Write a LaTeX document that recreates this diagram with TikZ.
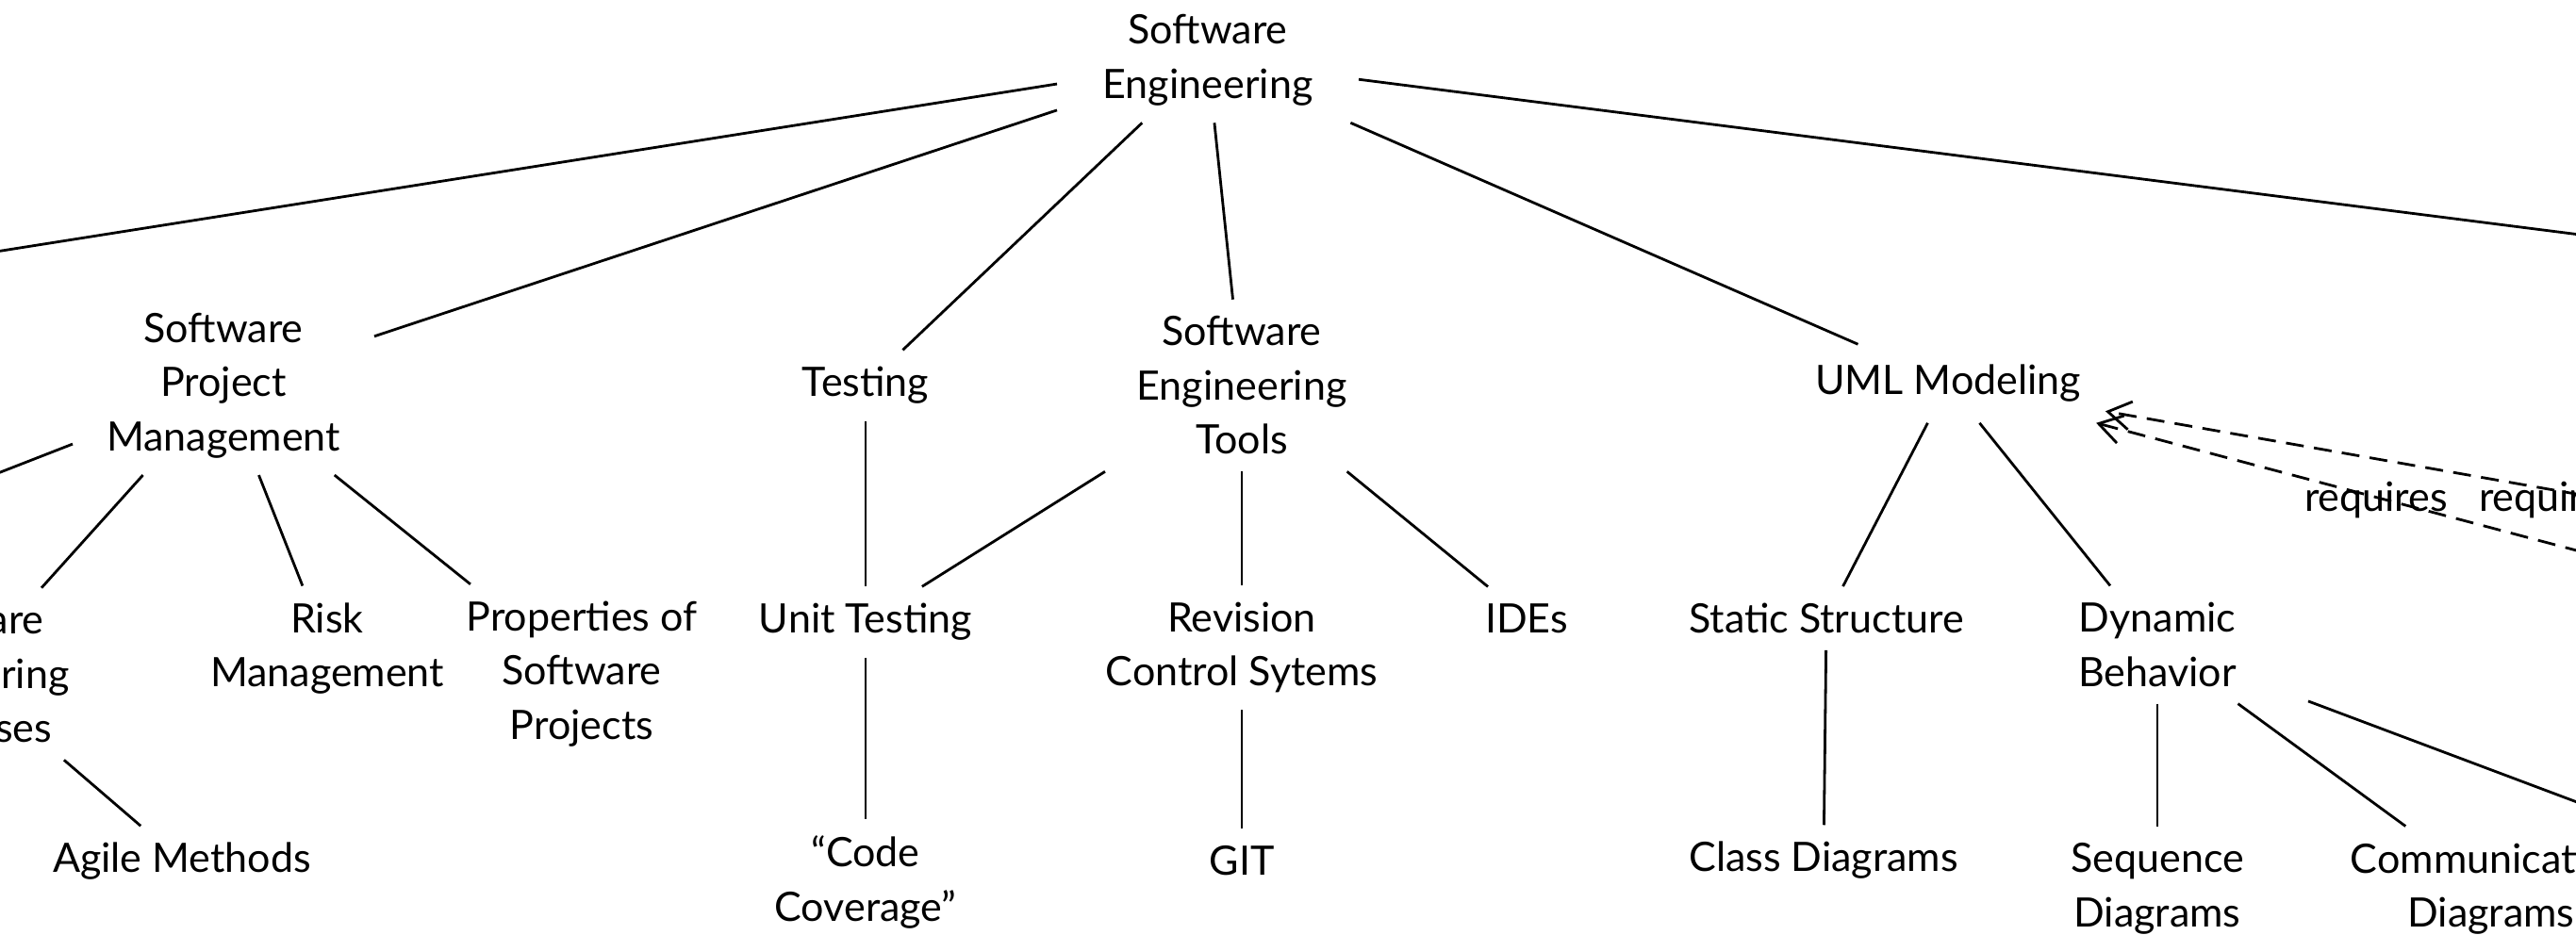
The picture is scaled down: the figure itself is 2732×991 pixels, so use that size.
\documentclass[tikz,border=0pt]{standalone}
\usepackage{fontspec}
\setmainfont{Lato}
\usetikzlibrary{arrows.meta}
\tikzset{
  base/.style={font=\fontsize{43}{57.5}\selectfont, align=center, inner xsep=30pt, inner ysep=18pt, outer sep=0pt},
  wide/.style={base, minimum width=320pt},
  link/.style={line width=2.8pt},
  dep/.style={line width=2.8pt, dash pattern=on 19pt off 11pt, -{Straight Barb[length=24pt,width=30pt,line width=2.8pt]}},
  lbl/.style={font=\fontsize{43}{57.5}\selectfont, inner sep=0pt}
}
\begin{document}
\begin{tikzpicture}[x=1pt,y=-1pt]
\useasboundingbox (0,0) rectangle (2732,991);
\clip (0,0) rectangle (2732,991);
% nodes
\node[wide] (root) at (1281,64) {Software\\Engineering};
\node[wide] (spm) at (237,409) {Software\\Project\\Management};
\node[base] (testing) at (918,409) {Testing};
\node[wide] (tools) at (1317,409) {Software\\Engineering\\Tools};
\node[base, inner xsep=26pt, inner ysep=22pt] (uml) at (2066,407) {UML Modeling};
\node[wide] (proc) at (-38,715) {Software\\Engineering\\Processes};
\node[wide] (risk) at (347,688) {Risk\\Management};
\node[wide] (props) at (617,715) {Properties of\\Software\\Projects};
\node[base] (unit) at (918,660) {Unit Testing};
\node[wide] (rev) at (1317,687) {Revision\\Control Sytems};
\node[base] (ides) at (1619,656) {IDEs};
\node[base] (static) at (1937,656) {Static Structure};
\node[wide] (dyn) at (2288,684) {Dynamic\\Behavior};
\node[base] (agile) at (193,914) {Agile Methods};
\node[wide] (cov) at (918,936) {“Code\\Coverage”};
\node[base] (git) at (1317,913) {GIT};
\node[base] (class) at (1934,913) {Class Diagrams};
\node[wide] (seq) at (2288,943) {Sequence\\Diagrams};
\node[wide] (comm) at (2642,943) {Communication\\Diagrams};
% off-picture ends
\coordinate (L0) at (-523,349);
\coordinate (R0) at (3255,315);
\coordinate (LS) at (-174,569);
\coordinate (RD) at (2962,937);
\coordinate (Q1) at (3000,655);
\coordinate (Q2) at (3300,624);
% edges
\draw[link] (root) -- (L0);
\draw[link] (root) -- (spm);
\draw[link] (root) -- (testing);
\draw[link] (root) -- (tools);
\draw[link] (root) -- (uml);
\draw[link] (root) -- (R0);
\draw[link] (spm) -- (LS);
\draw[link] (spm) -- (proc);
\draw[link] (spm) -- (risk);
\draw[link] (spm) -- (props);
\draw[link] (testing) -- (unit);
\draw[link] (tools) -- (unit);
\draw[link] (tools) -- (rev);
\draw[link] (tools) -- (ides);
\draw[link] (uml) -- (static);
\draw[link] (uml) -- (dyn);
\draw[link] (proc) -- (agile);
\draw[link] (unit) -- (cov);
\draw[link] (rev) -- (git);
\draw[link] (static) -- (class);
\draw[link] (dyn) -- (seq);
\draw[link] (dyn) -- (comm);
\draw[link] (dyn) -- (RD);
\draw[dep] (Q1) -- (uml);
\draw[dep] (Q2) -- (uml);
\node[lbl] (req1) at (2520,530) {requires};
\node[lbl] (req2) at (2705,530) {requires};
\end{tikzpicture}
\end{document}
